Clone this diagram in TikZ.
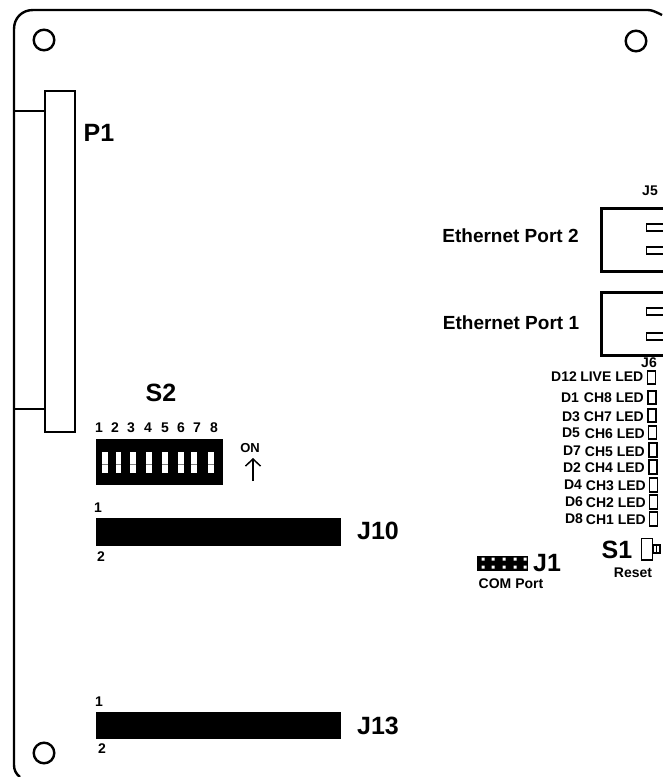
\documentclass[tikz,border=0pt]{standalone}
\usepackage{fontspec}
\setmainfont{Liberation Sans}
\usetikzlibrary{arrows.meta}

\begin{document}
\begin{tikzpicture}[x=1pt,y=-1pt,
    lbl/.style={inner sep=0pt,font=\bfseries\fontsize{14}{14}\selectfont},
    biglbl/.style={inner sep=0pt,font=\bfseries\fontsize{25}{25}\selectfont},
    portlbl/.style={inner sep=0pt,font=\bfseries\fontsize{19}{19}\selectfont},
    led/.style={draw,line width=1.5pt}]
  \useasboundingbox (0,0) rectangle (662,777);

  % Board outline and mounting holes
  \draw[line width=2.4pt] (662,15) .. controls (656,12) and (652,10) .. (648,10) -- (33,10)
    .. controls (22,10) and (14,18) .. (14,29) -- (14,765) .. controls (14,770) and (16,774) .. (20,777);
  \draw[line width=2.4pt] (44,40) circle (10.3pt);
  \draw[line width=2.4pt] (636,41) circle (10.3pt);
  \draw[line width=2.4pt] (44,753) circle (10.3pt);

  % P1 connector
  \draw[line width=2pt] (45,91) rectangle (75,432);
  \draw[line width=2pt] (14,111) -- (45,111);
  \draw[line width=2pt] (14,409) -- (45,409);
  \node[biglbl] (p1) at (99,133) {P1};

  % S2 switch
  \node[biglbl] (s2) at (161,393) {S2};
  \fill (96,439) rectangle (223,485);
  \fill[white] (102,452) rectangle (108,473);
  \fill[white] (116,452) rectangle (121,473);
  \fill[white] (130,452) rectangle (136,473);
  \fill[white] (146,452) rectangle (152,473);
  \fill[white] (162,452) rectangle (168,473);
  \fill[white] (178,452) rectangle (184,473);
  \fill[white] (191,452) rectangle (197,473);
  \fill[white] (208,452) rectangle (214,473);
  \draw[gray,line width=0.6pt] (102,464) -- (108,464) (116,464) -- (121,464) (130,464) -- (136,464)
    (146,464) -- (152,464) (162,464) -- (168,464) (178,464) -- (184,464) (191,464) -- (197,464) (208,464) -- (214,464);
  \node[lbl] (s2a) at (99,428) {1};
  \node[lbl] (s2b) at (115,428) {2};
  \node[lbl] (s2c) at (131,428) {3};
  \node[lbl] (s2d) at (148,428) {4};
  \node[lbl] (s2e) at (165,428) {5};
  \node[lbl] (s2f) at (181,428) {6};
  \node[lbl] (s2g) at (197,428) {7};
  \node[lbl] (s2h) at (214,428) {8};
  \node[lbl,font=\bfseries\fontsize{13}{13}\selectfont] (on) at (250,448) {ON};
  \draw[line width=1.5pt,-{Straight Barb[length=7pt,width=15pt]}] (253,481) -- (253,458);

  % J10 and J13 headers
  \fill (96,518) rectangle (341,546);
  \node[lbl] (j10a) at (98,508) {1};
  \node[lbl] (j10b) at (101,557) {2};
  \node[biglbl] (j10) at (378,531) {J10};
  \fill (96,712) rectangle (341,739);
  \node[lbl] (j13a) at (99,702) {1};
  \node[lbl] (j13b) at (102,749) {2};
  \node[biglbl] (j13) at (378,726) {J13};

  % Ethernet ports
  \draw[line width=3pt] (665,208) -- (601,208) -- (601,271) -- (665,271);
  \draw[line width=1.8pt] (665,224) -- (646.5,224) -- (646.5,231) -- (665,231);
  \draw[line width=1.8pt] (665,247) -- (646.5,247) -- (646.5,254) -- (665,254);
  \draw[line width=3pt] (665,292) -- (601,292) -- (601,355) -- (665,355);
  \draw[line width=1.8pt] (665,308) -- (646.5,308) -- (646.5,315) -- (665,315);
  \draw[line width=1.8pt] (665,333) -- (646.5,333) -- (646.5,340) -- (665,340);
  \node[portlbl] (eth2) at (510.5,236) {Ethernet Port 2};
  \node[portlbl] (eth1) at (511,323) {Ethernet Port 1};
  \node[lbl] (j5) at (650,191) {J5};
  \node[lbl] (j6) at (649,363) {J6};

  % Status LEDs
  \draw[led] (647.5,371) rectangle (655.5,384);
  \draw[led] (648,391) rectangle (656,404);
  \draw[led] (648,409) rectangle (656,422);
  \draw[led] (648.5,426) rectangle (656.5,439);
  \draw[led] (649,443) rectangle (657,457);
  \draw[led] (649,460) rectangle (657,474);
  \draw[led] (649.5,478) rectangle (657.5,492);
  \draw[led] (649.5,495) rectangle (657.5,509);
  \draw[led] (649.5,512) rectangle (657.5,526);
  \node[lbl] (d12) at (564,377) {D12};
  \node[lbl] (d1) at (570,398) {D1};
  \node[lbl] (d3) at (571,417) {D3};
  \node[lbl] (d5) at (571,433) {D5};
  \node[lbl] (d7) at (572,451) {D7};
  \node[lbl] (d2) at (572,468) {D2};
  \node[lbl] (d4) at (573,485) {D4};
  \node[lbl] (d6) at (574,502) {D6};
  \node[lbl] (d8) at (574,519) {D8};
  \node[lbl,anchor=east] (live) at (643.5,377) {LIVE LED};
  \node[lbl,anchor=east] (ch8) at (644,398) {CH8 LED};
  \node[lbl,anchor=east] (ch7) at (644,417) {CH7 LED};
  \node[lbl,anchor=east] (ch6) at (645,434) {CH6 LED};
  \node[lbl,anchor=east] (ch5) at (645,452) {CH5 LED};
  \node[lbl,anchor=east] (ch4) at (645,468) {CH4 LED};
  \node[lbl,anchor=east] (ch3) at (646,486) {CH3 LED};
  \node[lbl,anchor=east] (ch2) at (646,503) {CH2 LED};
  \node[lbl,anchor=east] (ch1) at (646,520) {CH1 LED};

  % Reset button
  \draw[line width=1.5pt] (641.5,538.5) rectangle (652.5,560);
  \draw[line width=1.5pt] (653,545) rectangle (660,553);
  \draw[line width=1pt] (656,545) -- (656,553);
  \node[biglbl] (s1) at (617,550) {S1};
  \node[lbl] (reset) at (633,573) {Reset};

  % COM port header
  \fill (477,556) rectangle (528,571);
  \fill[white] (481.5,557.5) rectangle +(3,3) (491.5,557.5) rectangle +(3,3) (502.5,557.5) rectangle +(3,3) (513.5,557.5) rectangle +(3,3) (523.5,557.5) rectangle +(3,3);
  \fill[white] (481.5,565.5) rectangle +(3,3) (491.5,565.5) rectangle +(3,3) (502.5,565.5) rectangle +(3,3) (513.5,565.5) rectangle +(3,3) (523.5,565.5) rectangle +(3,3);
  \node[biglbl] (j1) at (547,563) {J1};
  \node[lbl] (com) at (511,584) {COM Port};
\end{tikzpicture}
\end{document}
